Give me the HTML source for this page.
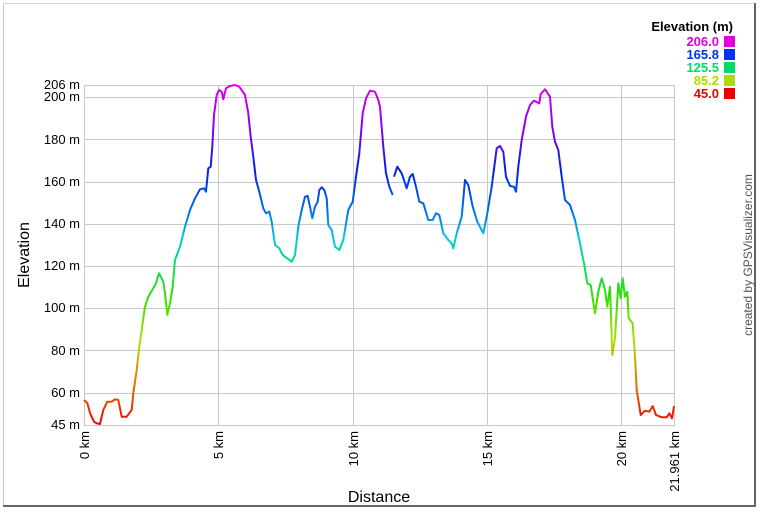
<!DOCTYPE html>
<html><head><meta charset="utf-8"><style>
body{margin:0;background:#fff;}
svg{display:block;font-family:"Liberation Sans",Arial,sans-serif;}
</style></head><body>
<svg width="770" height="514" viewBox="0 0 770 514" xmlns="http://www.w3.org/2000/svg">
<defs>
<linearGradient id="g" gradientUnits="userSpaceOnUse" x1="0" y1="84.5" x2="0" y2="426.7">
<stop offset="0" stop-color="#e000f0"/>
<stop offset="0.14" stop-color="#8000f0"/>
<stop offset="0.25" stop-color="#0020e8"/>
<stop offset="0.37" stop-color="#0070f0"/>
<stop offset="0.45" stop-color="#00c8e0"/>
<stop offset="0.50" stop-color="#00dd88"/>
<stop offset="0.62" stop-color="#30e000"/>
<stop offset="0.75" stop-color="#b0e000"/>
<stop offset="0.87" stop-color="#f07000"/>
<stop offset="1" stop-color="#e80000"/>
</linearGradient>
</defs>
<rect x="0" y="0" width="770" height="514" fill="#fff"/>
<line x1="3.5" y1="3" x2="3.5" y2="507" stroke="#c8c8c8" stroke-width="1"/>
<line x1="3" y1="3.5" x2="756" y2="3.5" stroke="#d8d8d8" stroke-width="1"/>
<line x1="755" y1="3" x2="755" y2="507" stroke="#666" stroke-width="2"/>
<line x1="3" y1="506" x2="756" y2="506" stroke="#666" stroke-width="2"/>
<g stroke="#c8c8c8" stroke-width="1">
<line x1="84" y1="85.5" x2="674" y2="85.5"/>
<line x1="84" y1="97.5" x2="674" y2="97.5"/>
<line x1="84" y1="139.5" x2="674" y2="139.5"/>
<line x1="84" y1="182.5" x2="674" y2="182.5"/>
<line x1="84" y1="224.5" x2="674" y2="224.5"/>
<line x1="84" y1="266.5" x2="674" y2="266.5"/>
<line x1="84" y1="308.5" x2="674" y2="308.5"/>
<line x1="84" y1="350.5" x2="674" y2="350.5"/>
<line x1="84" y1="393.5" x2="674" y2="393.5"/>
<line x1="84" y1="425.5" x2="674" y2="425.5"/>
<line x1="84.5" y1="85" x2="84.5" y2="426"/>
<line x1="218.5" y1="85" x2="218.5" y2="426"/>
<line x1="353.5" y1="85" x2="353.5" y2="426"/>
<line x1="487.5" y1="85" x2="487.5" y2="426"/>
<line x1="621.5" y1="85" x2="621.5" y2="426"/>
<line x1="674.5" y1="85" x2="674.5" y2="426"/>
</g>
<g font-size="13" fill="#000" text-anchor="end">
<text x="80" y="89">206 m</text>
<text x="80" y="101">200 m</text>
<text x="80" y="144">180 m</text>
<text x="80" y="186">160 m</text>
<text x="80" y="228">140 m</text>
<text x="80" y="270">120 m</text>
<text x="80" y="312">100 m</text>
<text x="80" y="355">80 m</text>
<text x="80" y="397">60 m</text>
<text x="80" y="429">45 m</text>
</g>
<g font-size="13" fill="#000" text-anchor="end">
<text transform="translate(89,431) rotate(-90)">0 km</text>
<text transform="translate(223,431) rotate(-90)">5 km</text>
<text transform="translate(358,431) rotate(-90)">10 km</text>
<text transform="translate(492,431) rotate(-90)">15 km</text>
<text transform="translate(626,431) rotate(-90)">20 km</text>
<text transform="translate(679,431) rotate(-90)">21.961 km</text>
</g>
<text x="379" y="502" font-size="16" text-anchor="middle">Distance</text>
<text transform="translate(29,255) rotate(-90)" font-size="16" text-anchor="middle">Elevation</text>
<text transform="translate(752,255) rotate(-90)" font-size="12" fill="#555" text-anchor="middle">created by GPSVisualizer.com</text>
<text x="733" y="31" font-size="13" font-weight="bold" text-anchor="end">Elevation (m)</text>
<g font-size="13" font-weight="bold" text-anchor="end">
<text x="719" y="46" fill="#e000e0">206.0</text>
<text x="719" y="59" fill="#0033ee">165.8</text>
<text x="719" y="72" fill="#00dd66">125.5</text>
<text x="719" y="85" fill="#aadd00">85.2</text>
<text x="719" y="98" fill="#ee0000">45.0</text>
</g>
<rect x="724" y="36" width="11" height="11" fill="#e000e0"/>
<rect x="724" y="49" width="11" height="11" fill="#0033ee"/>
<rect x="724" y="62" width="11" height="11" fill="#00dd66"/>
<rect x="724" y="75" width="11" height="11" fill="#aadd00"/>
<rect x="724" y="88" width="11" height="11" fill="#ee0000"/>
<polyline fill="none" stroke="url(#g)" stroke-width="2" stroke-linejoin="round" points="
84,400 87.3,403 90,413 94,421.7 96.7,423.3 100,424 103.3,410 107.3,401.7 111.7,401.7 115,399.3 118.3,400 121.7,416.7 126.7,416.7 131.7,410 133.3,393.3 136.7,370 139.3,346.7 141.7,330 145,306.7 148.3,296.7 153.3,288.3 156,283.3 159,273.3 163.3,281.7 165,293.3 167.3,315 170,303.3 172.7,286.7 175,260 180,246.7 185,226.7 190,210 195,198.3 200,189.3 204,188.3 206,191.7 208.3,168.3 210.7,166.7 212.3,146.7 214,115 216.7,95 219,90 221.7,91.7 223.3,99.3 226,88.3 230,86 235,85 239.3,86.7 245,95 248.3,113.3 250.7,136.7 253.3,156.7 256,180 259.3,191.7 263.3,208.3 266,213.3 269.3,211.7 271.7,221.7 275,245 279.3,248.3 282.7,255 287.3,258.3 291.7,261.7 295,255 298.3,226.7 301.7,210 305,196.7 307.7,196 310,206.7 312.3,218.3 315,206.7 317.7,201.7 319.3,190 321.7,187.3 324.3,190 326.7,198.3 328.3,225 331.7,230 335,246.7 339.3,250 343.3,240 348.3,210 352.7,201.7 356,176.7 359.3,153.3 362.7,113.3 366,98.3 370,90.7 375,91.7 378.3,100 380,106.7 383.3,146.7 386,173.3 389.3,186.7 392.7,195"/>
<polyline fill="none" stroke="url(#g)" stroke-width="2" stroke-linejoin="round" points="
394,176.7 397.3,166.7 401.7,173.3 406.7,188.3 410,176.7 412.7,174 416,186.7 419.3,201.7 423.3,203.3 428.3,220 432.7,220 436,213.3 439.3,215 443.3,233.3 448.3,240 451.7,243.3 453.3,248.3 456.7,233.3 461.7,216.7 465,180 468.3,185 472.7,206.7 477.3,221.7 483.3,233.3 487.3,213.3 491.7,186.7 496.7,148.3 500,146 503.3,151.7 506,176.7 510,186 514,186.7 516,191.7 518.3,166.7 521.7,140 526,116.7 530,105 534,100.7 539.3,103.3 540.7,94 545,89.3 550,96.7 552.3,126.7 555,141.7 558.3,150 561.7,176.7 565,200 570,205 575,220 579.3,240 584,263.3 587.3,283.3 590.7,285 595,313.3 598.3,291.7 601.7,278.3 605,290 607.3,306.7 610,286.7 612.3,355 615,338.3 618.3,283.3 620.7,298.3 622.7,278.3 625,296.7 627.3,291.7 628.7,318.3 632.7,323.3 635,356.7 636.7,390 640.7,415 645,410.7 649.3,411.7 652.7,406 656,415 661.7,417.3 666.7,417.3 669.3,413.3 672,418.3 674,406"/>
</svg>
</body></html>
